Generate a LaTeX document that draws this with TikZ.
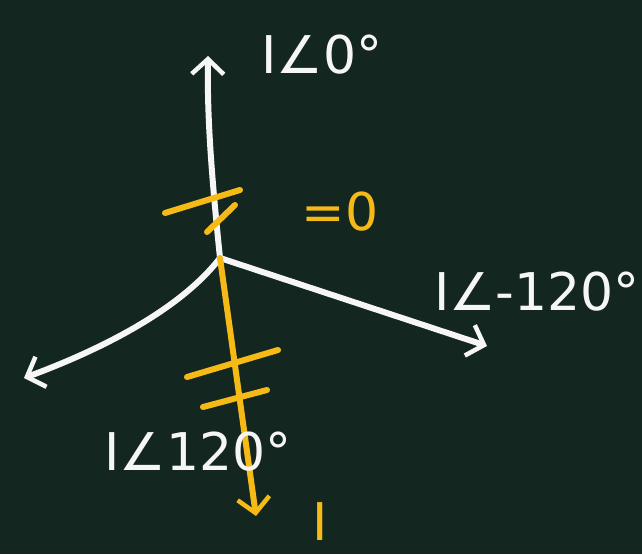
\documentclass[tikz,border=0pt]{standalone}
\usepackage{fontspec}
\setmainfont{DejaVu Sans}
\usetikzlibrary{arrows.meta}
\definecolor{board}{RGB}{20,38,32}
\definecolor{chalk}{RGB}{246,246,246}
\definecolor{chalky}{RGB}{246,186,22}
\tikzset{
  wline/.style={draw=chalk, line width=6pt, line cap=round, line join=round},
  yline/.style={draw=chalky, line width=6pt, line cap=round, line join=round},
  vhead/.style={-{Straight Barb[length=15pt,width=32pt,line width=4.5pt]}},
  wlabel/.style={text=chalk, font=\fontsize{52}{58}\selectfont, inner sep=0pt},
  ylabel/.style={text=chalky, font=\fontsize{52}{58}\selectfont, inner sep=0pt}
}
\begin{document}
\begin{tikzpicture}[x=1pt,y=-1pt]
\fill[board] (0,0) rectangle (642,554);
\useasboundingbox (0,0) rectangle (642,554);
\coordinate (o) at (220,258);
\coordinate (top) at (208,56);
\coordinate (rt) at (487,346);
\coordinate (lt) at (24,378);
\coordinate (bot) at (256,516);
% white phasors
\draw[wline,vhead] (o) .. controls (212,180) and (207,120) .. (top);
\draw[wline,vhead] (o) -- (rt);
\draw[wline,vhead] (o) .. controls (180,310) and (100,350) .. (lt);
% yellow neutral current
\draw[yline,vhead] (o) -- (bot);
% yellow ticks
\coordinate (t1a) at (165,213); \coordinate (t1b) at (240,190);
\coordinate (t2a) at (207,232); \coordinate (t2b) at (235,205);
\coordinate (t3a) at (187,377); \coordinate (t3b) at (278,350);
\coordinate (t4a) at (203,407); \coordinate (t4b) at (267,390);
\draw[yline] (t1a) -- (t1b);
\draw[yline] (t2a) -- (t2b);
\draw[yline] (t3a) -- (t3b);
\draw[yline] (t4a) -- (t4b);
% labels
\node[wlabel] (l0) at (322,55) {I∠0°};
\node[wlabel] (l1) at (537,292) {I∠-120°};
\node[wlabel] (l2) at (198,452) {I∠120°};
\node[ylabel] (li) at (320,522) {I};
\node[ylabel] (lz) at (340,212) {=0};
\end{tikzpicture}
\end{document}
